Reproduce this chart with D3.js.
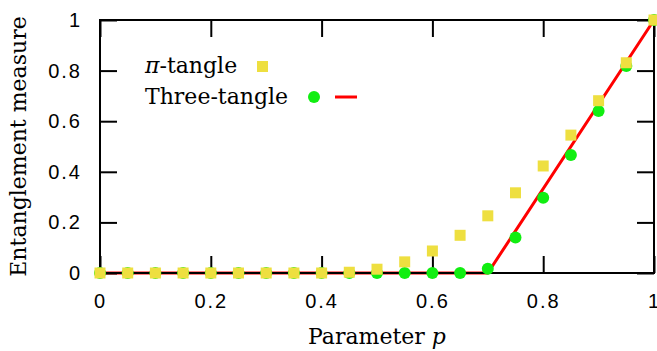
<!DOCTYPE html>
<html>
<head>
<meta charset="utf-8">
<script src="https://cdn.jsdelivr.net/npm/d3@7"></script>
<style>
  body { margin: 0; background: #fff; }
  .tick text { font-family: "Liberation Sans", Arial, sans-serif; font-size: 20px; letter-spacing: 2px; fill: #000; }
</style>
</head>
<body>
<div id="chart"></div>
<script>
// parameter p values
const pValues = [0, 0.05, 0.1, 0.15, 0.2, 0.25, 0.3, 0.35, 0.4, 0.45, 0.5,
                 0.55, 0.6, 0.65, 0.7, 0.75, 0.8, 0.85, 0.9, 0.95, 1];
// pi-tangle (squares)
const piTangle = [0, 0, 0, 0, 0, 0, 0, 0, 0, 0.003, 0.015,
                  0.044, 0.087, 0.149, 0.226, 0.317, 0.423, 0.545, 0.681, 0.831, 1];
// three-tangle (circles)
const threeTangle = [0, 0, 0, 0, 0, 0, 0, 0, 0, 0, 0,
                     0, 0, 0, 0.017, 0.14, 0.297, 0.466, 0.64, 0.818, 1];
// three-tangle analytic curve
const lineP = [0, 0.7, 1];
const lineV = [0, 0, 1];
const tickValues = [0, 0.2, 0.4, 0.6, 0.8, 1];

const margin = { top: 20, right: 3, bottom: 78, left: 100 },
    width = 657 - margin.left - margin.right,
    height = 351 - margin.top - margin.bottom;

const svg = d3.select("#chart")
    .append("svg")
    .attr("width", 657)
    .attr("height", 351)
    .append("g")
    .attr("transform", `translate(${margin.left},${margin.top})`);

const x = d3.scaleLinear().domain([0, 1]).range([0, width]);
const y = d3.scaleLinear().domain([0, 1]).range([height, 0]);

const fmt = d => d === 0 ? "0" : d === 1 ? "1" : d3.format(".1f")(d);

// serif text helper
const serif = sel => sel
    .attr("font-family", "DejaVu Serif")
    .attr("font-size", 22)
    .attr("fill", "#000");

// red line
svg.append("path")
    .datum(lineP.map((p, i) => [p, lineV[i]]))
    .attr("fill", "none")
    .attr("stroke", "#ff0000")
    .attr("stroke-width", 3)
    .attr("d", d3.line().x(d => x(d[0])).y(d => y(d[1])));

// axes (ticks drawn inward, labels outside)
const axB = svg.append("g")
    .attr("transform", `translate(0,${height})`)
    .call(d3.axisBottom(x).tickValues(tickValues).tickFormat(fmt).tickSize(-17).tickPadding(21));
const axL = svg.append("g")
    .call(d3.axisLeft(y).tickValues(tickValues).tickFormat(fmt).tickSize(-17).tickPadding(18));
const axT = svg.append("g")
    .call(d3.axisTop(x).tickValues(tickValues).tickFormat("").tickSize(-17));
const axR = svg.append("g")
    .attr("transform", `translate(${width},0)`)
    .call(d3.axisRight(y).tickValues(tickValues).tickFormat("").tickSize(-17));
[axB, axL, axT, axR].forEach(a => {
    a.select(".domain").remove();
    a.selectAll(".tick line").attr("stroke", "#000").attr("stroke-width", 2);
});
axB.selectAll(".tick text").attr("dy", "0.71em");

// frame
svg.append("rect")
    .attr("width", width)
    .attr("height", height)
    .attr("fill", "none")
    .attr("stroke", "#000")
    .attr("stroke-width", 2);

// three-tangle circles
svg.selectAll(".dot")
    .data(pValues.map((p, i) => [p, threeTangle[i]]))
    .enter()
    .append("circle")
    .attr("cx", d => x(d[0]))
    .attr("cy", d => y(d[1]))
    .attr("r", 6)
    .attr("fill", "#11ee11");

// pi-tangle squares
svg.selectAll(".sq")
    .data(pValues.map((p, i) => [p, piTangle[i]]))
    .enter()
    .append("rect")
    .attr("x", d => x(d[0]) - 5.5)
    .attr("y", d => y(d[1]) - 5.5)
    .attr("width", 11)
    .attr("height", 11)
    .attr("fill", "#eedf40");

// legend
const leg = svg.append("g");
leg.append("text").call(serif).attr("x", 45).attr("y", 53)
    .html('<tspan font-style="italic">π</tspan>-tangle');
leg.append("rect").attr("x", 157).attr("y", 41).attr("width", 11).attr("height", 11).attr("fill", "#eedf40");
leg.append("text").call(serif).attr("x", 45).attr("y", 84).text("Three-tangle");
leg.append("circle").attr("cx", 214).attr("cy", 77).attr("r", 6).attr("fill", "#11ee11");
leg.append("line").attr("x1", 235).attr("x2", 257).attr("y1", 77).attr("y2", 77)
    .attr("stroke", "#ff0000").attr("stroke-width", 3);

// axis titles
svg.append("text").call(serif)
    .attr("x", width / 2)
    .attr("y", height + 71)
    .attr("text-anchor", "middle")
    .html('Parameter <tspan font-style="italic">p</tspan>');
svg.append("text").call(serif)
    .attr("transform", `translate(${-74},${height / 2}) rotate(-90)`)
    .attr("text-anchor", "middle")
    .text("Entanglement measure");
</script>
</body>
</html>
